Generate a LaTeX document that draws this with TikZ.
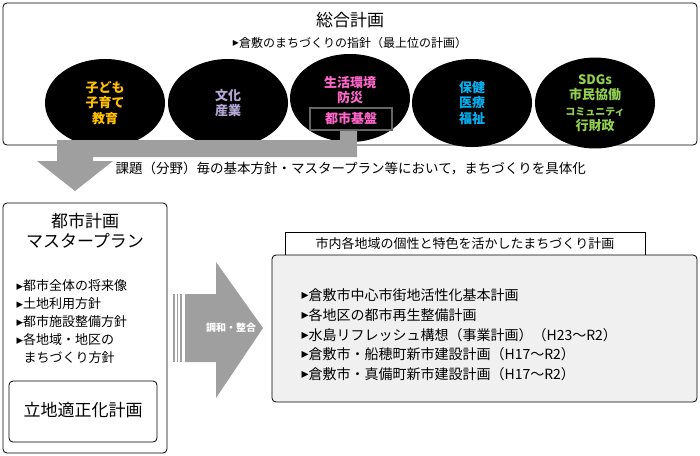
\documentclass[tikz,border=0pt]{standalone}
\usepackage{fontspec}
\setmainfont{Noto Sans CJK JP}
\newfontfamily\symfont{DejaVu Sans}
\newcommand{\tri}{{\symfont\raisebox{0.1ex}{▸}}}
\usetikzlibrary{shapes.geometric}
\definecolor{kodomo}{HTML}{FFC000}
\definecolor{bunka}{HTML}{B4A7D6}
\definecolor{seikatsu}{HTML}{FF66CC}
\definecolor{hoken}{HTML}{00B0F0}
\definecolor{shimin}{HTML}{92D050}
\tikzset{
  field/.style={ellipse, fill=black, minimum width=120pt, minimum height=88pt, align=center, font=\bfseries\fontsize{13}{15.5}\selectfont},
  panel/.style={draw, rounded corners=4pt, line width=0.8pt},
  bullet/.style={anchor=west, font=\fontsize{13}{15}\selectfont},
  bigtitle/.style={font=\fontsize{17}{20}\selectfont}
}
\begin{document}
\begin{tikzpicture}[x=1pt, y=-1pt]
    \useasboundingbox (0,0) rectangle (700,455);
    % Top: comprehensive plan
    \draw[panel] (3,3) rectangle (697,145);
    \node[bigtitle] (sogo) at (350,20) {総合計画};
    \node[font=\fontsize{12}{14}\selectfont] (shishin) at (350,43) {\tri 倉敷のまちづくりの指針（最上位の計画）};
    \node[field, text=kodomo] (Field-1) at (105,103) {子ども\\子育て\\教育};
    \node[field, text=bunka] (Field-2) at (228,103) {文化\\産業};
    \node[field, text=seikatsu] (Field-3) at (350,98) {生活環境\\防災\\\phantom{都市基盤}};
    \node[field, text=hoken] (Field-4) at (472,103) {保健\\医療\\福祉};
    \node[field, text=shimin] (Field-5) at (595,103) {SDGs\\市民協働\\{\fontsize{10}{12}\selectfont コミュニティ}\\行財政};
    % Gray arrow down to city plan
    \fill[gray!75] (340,130) -- (357,130) -- (357,157) -- (93,157) -- (93,161) -- (113,161)
        -- (75,191) -- (37,161) -- (57,161) -- (57,140) -- (340,140) -- cycle;
    \node[draw=gray!80!black, line width=1.6pt, fill=black, text=seikatsu, font=\bfseries\fontsize{13}{15}\selectfont,
        minimum width=82pt, minimum height=22pt] (kiban) at (351,119) {都市基盤};
    \node[anchor=west, font=\fontsize{13.5}{16}\selectfont] (gutaika) at (112,168) {課題（分野）毎の基本方針・マスタープラン等において，まちづくりを具体化};
    % City master plan
    \draw[panel] (3,203) rectangle (167,453);
    \node[bigtitle, align=center] (mp) at (85,231) {都市計画\\マスタープラン};
    \node[bullet] (mp-1) at (13,286) {\tri 都市全体の将来像};
    \node[bullet] (mp-2) at (13,304) {\tri 土地利用方針};
    \node[bullet] (mp-3) at (13,322) {\tri 都市施設整備方針};
    \node[bullet] (mp-4) at (13,340) {\tri 各地域・地区の};
    \node[bullet] (mp-5) at (20,358) {まちづくり方針};
    \draw[panel] (9,381) rectangle (157,442);
    \node[bigtitle] (ricchi) at (83,410) {立地適正化計画};
    % Harmonize arrow
    \foreach \x in {174,177.5,181} {
            \draw[gray!75, line width=1.5pt] (\x,294) -- (\x,362);
        }
    \fill[gray!75] (185,294) -- (216,294) -- (216,262) -- (263,328) -- (216,398) -- (216,362) -- (185,362) -- cycle;
    \node[text=white, font=\bfseries\fontsize{10}{12}\selectfont] (chowa) at (231,328) {調和・整合};
    % Local plans
    \node[draw, line width=0.8pt, fill=white, minimum width=360pt, minimum height=23pt, font=\fontsize{13}{15}\selectfont] (chiiki) at (465,244) {市内各地域の個性と特色を活かしたまちづくり計画};
    \draw[panel, fill=gray!12] (272,255) rectangle (697,402);
    \node[bullet, font=\fontsize{14}{16}\selectfont] (plan-1) at (298,295) {\tri 倉敷市中心市街地活性化基本計画};
    \node[bullet, font=\fontsize{14}{16}\selectfont] (plan-2) at (298,315) {\tri 各地区の都市再生整備計画};
    \node[bullet, font=\fontsize{14}{16}\selectfont] (plan-3) at (298,335) {\tri 水島リフレッシュ構想（事業計画）（H23〜R2）};
    \node[bullet, font=\fontsize{14}{16}\selectfont] (plan-4) at (298,354) {\tri 倉敷市・船穂町新市建設計画（H17〜R2）};
    \node[bullet, font=\fontsize{14}{16}\selectfont] (plan-5) at (298,374) {\tri 倉敷市・真備町新市建設計画（H17〜R2）};
\end{tikzpicture}
\end{document}
